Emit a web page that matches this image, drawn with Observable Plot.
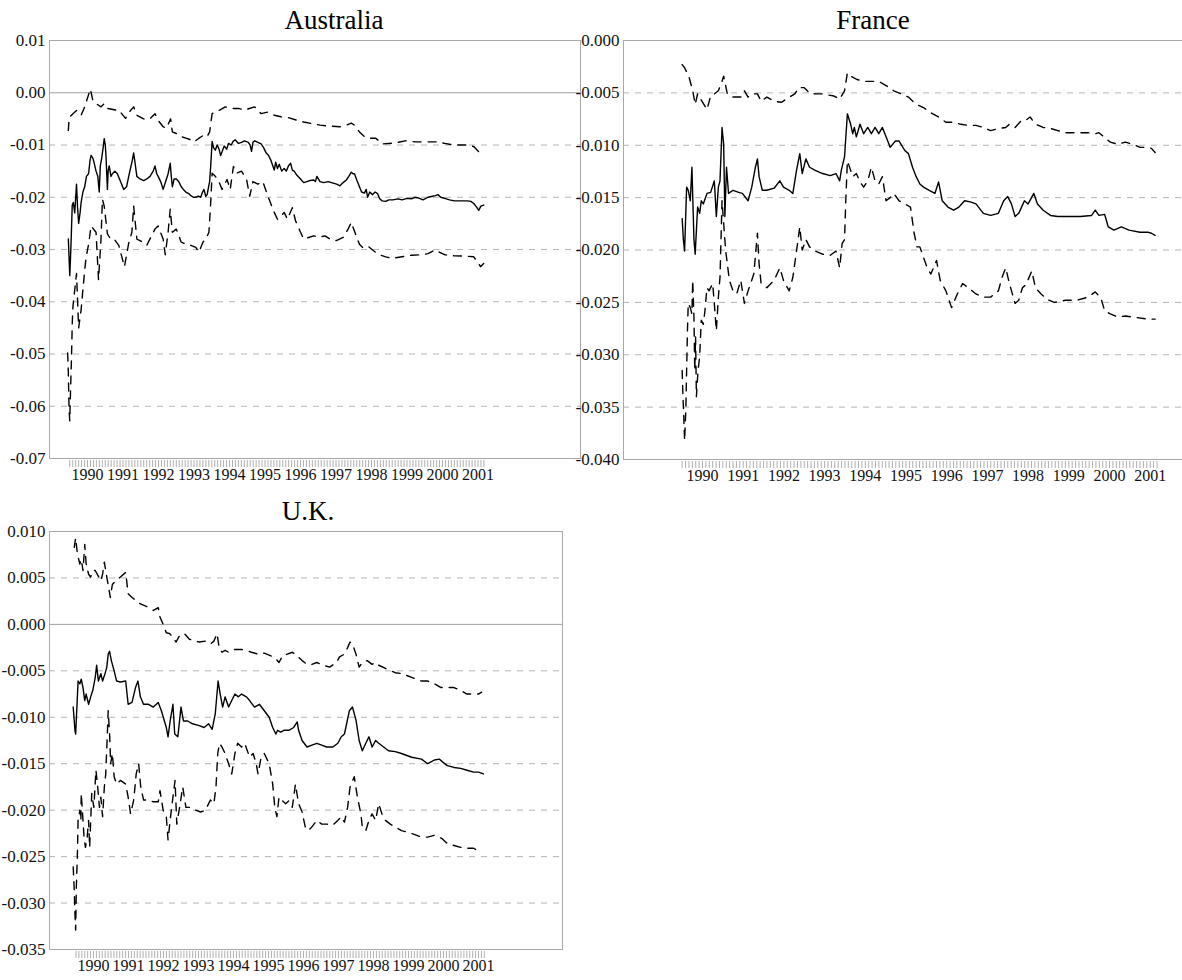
<!DOCTYPE html>
<html>
<head>
<meta charset="utf-8">
<script src="https://cdn.jsdelivr.net/npm/d3@7"></script>
<script src="https://cdn.jsdelivr.net/npm/@observablehq/plot@0.6"></script>
<style>
  html, body { margin: 0; padding: 0; background: #fff; overflow: hidden; }
  #page { position: relative; width: 1182px; height: 980px; overflow: hidden; background: #fff; }
  .panel { position: absolute; }
  .title { position: absolute; font-family: "Liberation Serif", "DejaVu Serif", serif; font-size: 27px; color: #000; transform: translate(-50%, -50%); white-space: nowrap; }
</style>
</head>
<body>
<div id="page"></div>
<script>
// ---------- data: [decimal year, value] ----------
const ausMid = [[1989.46,-0.028],[1989.50,-0.035],[1989.53,-0.030],[1989.57,-0.0215],[1989.60,-0.021],[1989.64,-0.023],[1989.69,-0.0175],[1989.72,-0.022],[1989.75,-0.025],[1989.79,-0.023],[1989.82,-0.021],[1989.87,-0.019],[1989.92,-0.018],[1989.97,-0.016],[1990.03,-0.0155],[1990.07,-0.013],[1990.10,-0.012],[1990.15,-0.0125],[1990.19,-0.0135],[1990.24,-0.015],[1990.29,-0.016],[1990.33,-0.019],[1990.36,-0.014],[1990.40,-0.0125],[1990.44,-0.0105],[1990.47,-0.0088],[1990.50,-0.010],[1990.52,-0.012],[1990.56,-0.0185],[1990.58,-0.015],[1990.61,-0.014],[1990.66,-0.016],[1990.70,-0.0155],[1990.77,-0.015],[1990.84,-0.0155],[1990.93,-0.017],[1991.02,-0.0185],[1991.10,-0.018],[1991.16,-0.016],[1991.21,-0.0145],[1991.26,-0.0130],[1991.30,-0.0115],[1991.35,-0.014],[1991.39,-0.016],[1991.48,-0.0165],[1991.58,-0.0168],[1991.67,-0.0165],[1991.76,-0.016],[1991.85,-0.015],[1991.90,-0.014],[1991.95,-0.0155],[1991.99,-0.016],[1992.06,-0.017],[1992.13,-0.0185],[1992.20,-0.017],[1992.27,-0.0155],[1992.33,-0.0135],[1992.36,-0.016],[1992.39,-0.018],[1992.44,-0.0165],[1992.50,-0.0165],[1992.57,-0.017],[1992.64,-0.018],[1992.70,-0.0185],[1992.77,-0.019],[1992.85,-0.0193],[1992.91,-0.0197],[1992.98,-0.020],[1993.05,-0.020],[1993.12,-0.0198],[1993.19,-0.020],[1993.24,-0.019],[1993.28,-0.0185],[1993.33,-0.0198],[1993.37,-0.0195],[1993.41,-0.018],[1993.44,-0.017],[1993.47,-0.014],[1993.51,-0.0093],[1993.55,-0.0105],[1993.60,-0.011],[1993.65,-0.0100],[1993.70,-0.0107],[1993.75,-0.0120],[1993.79,-0.0113],[1993.85,-0.0102],[1993.92,-0.0108],[1993.97,-0.0097],[1994.05,-0.0100],[1994.10,-0.0093],[1994.16,-0.0090],[1994.25,-0.0097],[1994.34,-0.0095],[1994.42,-0.0092],[1994.53,-0.0095],[1994.58,-0.0100],[1994.62,-0.0112],[1994.66,-0.0095],[1994.71,-0.0092],[1994.80,-0.0095],[1994.89,-0.0098],[1994.96,-0.0105],[1995.03,-0.0115],[1995.10,-0.0120],[1995.17,-0.0130],[1995.22,-0.0140],[1995.26,-0.0148],[1995.30,-0.0133],[1995.35,-0.0145],[1995.40,-0.0137],[1995.47,-0.0150],[1995.54,-0.0145],[1995.60,-0.0150],[1995.66,-0.0140],[1995.72,-0.0135],[1995.77,-0.0148],[1995.82,-0.0150],[1995.90,-0.0158],[1996.00,-0.0165],[1996.09,-0.0172],[1996.18,-0.0170],[1996.27,-0.0168],[1996.37,-0.0167],[1996.42,-0.0170],[1996.46,-0.0160],[1996.55,-0.0170],[1996.65,-0.0172],[1996.78,-0.0170],[1996.92,-0.0173],[1997.02,-0.0175],[1997.11,-0.0178],[1997.20,-0.0172],[1997.29,-0.0167],[1997.36,-0.0160],[1997.43,-0.0152],[1997.48,-0.0155],[1997.52,-0.0155],[1997.59,-0.0168],[1997.66,-0.0180],[1997.72,-0.0190],[1997.80,-0.0192],[1997.85,-0.0185],[1997.89,-0.0200],[1997.95,-0.0190],[1998.03,-0.0195],[1998.10,-0.0190],[1998.17,-0.0193],[1998.23,-0.0203],[1998.30,-0.0207],[1998.40,-0.0208],[1998.49,-0.0205],[1998.60,-0.0205],[1998.75,-0.0203],[1998.86,-0.0205],[1999.00,-0.0202],[1999.12,-0.0203],[1999.23,-0.0200],[1999.35,-0.0202],[1999.45,-0.0205],[1999.59,-0.0200],[1999.72,-0.0198],[1999.80,-0.0197],[1999.87,-0.0195],[1999.95,-0.0200],[2000.06,-0.0202],[2000.20,-0.0205],[2000.33,-0.0207],[2000.50,-0.0207],[2000.70,-0.0207],[2000.80,-0.0208],[2000.88,-0.0212],[2000.95,-0.0218],[2001.02,-0.0225],[2001.08,-0.0217],[2001.16,-0.0215]];
const ausUpper = [[1989.46,-0.0072],[1989.48,-0.0050],[1989.50,-0.0046],[1989.59,-0.0040],[1989.69,-0.0034],[1989.82,-0.0043],[1989.92,-0.0027],[1989.99,-0.0012],[1990.08,0.0007],[1990.15,-0.0015],[1990.24,-0.0021],[1990.38,-0.0027],[1990.47,-0.0021],[1990.56,-0.0030],[1990.79,-0.0033],[1990.88,-0.0033],[1991.07,-0.0049],[1991.21,-0.0034],[1991.30,-0.0027],[1991.39,-0.0043],[1991.58,-0.0050],[1991.76,-0.0050],[1991.90,-0.0040],[1991.99,-0.0053],[1992.13,-0.0065],[1992.22,-0.0068],[1992.34,-0.0050],[1992.39,-0.0075],[1992.50,-0.0078],[1992.64,-0.0084],[1992.77,-0.0087],[1992.91,-0.0090],[1993.00,-0.0094],[1993.14,-0.0087],[1993.28,-0.0081],[1993.37,-0.0084],[1993.44,-0.0075],[1993.51,-0.0040],[1993.60,-0.0037],[1993.70,-0.0034],[1993.88,-0.0027],[1994.06,-0.0030],[1994.25,-0.0030],[1994.43,-0.0033],[1994.71,-0.0027],[1994.89,-0.0040],[1995.08,-0.0037],[1995.26,-0.0043],[1995.45,-0.0046],[1995.63,-0.0047],[1995.91,-0.0053],[1996.09,-0.0056],[1996.32,-0.0059],[1996.55,-0.0062],[1996.83,-0.0064],[1997.11,-0.0065],[1997.29,-0.0062],[1997.43,-0.0058],[1997.52,-0.0062],[1997.66,-0.0075],[1997.80,-0.0084],[1997.94,-0.0087],[1998.12,-0.0087],[1998.30,-0.0098],[1998.67,-0.0096],[1998.95,-0.0092],[1999.23,-0.0094],[1999.59,-0.0094],[1999.87,-0.0094],[2000.06,-0.0097],[2000.33,-0.0100],[2000.70,-0.0100],[2000.88,-0.0103],[2001.02,-0.0113],[2001.16,-0.0106]];
const ausLower = [[1989.44,-0.0498],[1989.46,-0.0536],[1989.48,-0.0606],[1989.50,-0.0628],[1989.52,-0.0574],[1989.55,-0.0504],[1989.57,-0.0441],[1989.59,-0.0409],[1989.64,-0.0377],[1989.69,-0.0346],[1989.75,-0.0450],[1989.82,-0.0415],[1989.87,-0.0377],[1989.92,-0.0340],[1989.96,-0.0315],[1990.03,-0.0290],[1990.10,-0.0255],[1990.24,-0.0267],[1990.31,-0.0358],[1990.38,-0.0280],[1990.42,-0.0204],[1990.47,-0.0217],[1990.56,-0.0270],[1990.65,-0.0280],[1990.75,-0.0280],[1990.88,-0.0292],[1991.04,-0.0333],[1991.16,-0.0288],[1991.25,-0.0267],[1991.30,-0.0217],[1991.39,-0.0280],[1991.53,-0.0285],[1991.67,-0.0292],[1991.90,-0.0261],[1991.99,-0.0255],[1992.13,-0.0280],[1992.19,-0.0310],[1992.27,-0.0267],[1992.33,-0.0223],[1992.39,-0.0267],[1992.50,-0.0261],[1992.64,-0.0286],[1992.77,-0.0290],[1992.91,-0.0292],[1993.05,-0.0296],[1993.14,-0.0305],[1993.25,-0.0286],[1993.33,-0.0280],[1993.42,-0.0267],[1993.47,-0.0210],[1993.51,-0.0154],[1993.60,-0.0160],[1993.70,-0.0170],[1993.79,-0.0185],[1993.93,-0.0166],[1994.02,-0.0185],[1994.11,-0.0141],[1994.20,-0.0154],[1994.34,-0.0150],[1994.48,-0.0166],[1994.57,-0.0198],[1994.66,-0.0170],[1994.80,-0.0175],[1994.94,-0.0170],[1995.08,-0.0198],[1995.26,-0.0229],[1995.35,-0.0242],[1995.45,-0.0236],[1995.54,-0.0229],[1995.63,-0.0242],[1995.77,-0.0220],[1995.86,-0.0245],[1996.00,-0.0267],[1996.09,-0.0280],[1996.23,-0.0277],[1996.37,-0.0274],[1996.55,-0.0276],[1996.69,-0.0274],[1996.83,-0.0280],[1997.01,-0.0283],[1997.20,-0.0277],[1997.34,-0.0261],[1997.43,-0.0248],[1997.52,-0.0265],[1997.66,-0.0290],[1997.75,-0.0296],[1997.89,-0.0293],[1998.03,-0.0301],[1998.21,-0.0310],[1998.40,-0.0314],[1998.58,-0.0317],[1998.86,-0.0314],[1999.13,-0.0311],[1999.41,-0.0310],[1999.59,-0.0308],[1999.78,-0.0301],[2000.06,-0.0310],[2000.33,-0.0312],[2000.70,-0.0313],[2000.88,-0.0314],[2001.02,-0.0327],[2001.07,-0.0333],[2001.16,-0.0327]];

const fraMid = [[1989.50,-0.0170],[1989.53,-0.0190],[1989.56,-0.0201],[1989.61,-0.0140],[1989.65,-0.0143],[1989.70,-0.0153],[1989.74,-0.0121],[1989.79,-0.0190],[1989.82,-0.0204],[1989.88,-0.0159],[1989.93,-0.0165],[1989.97,-0.0153],[1990.02,-0.0156],[1990.11,-0.0146],[1990.20,-0.0145],[1990.29,-0.0134],[1990.34,-0.0168],[1990.39,-0.0140],[1990.43,-0.0134],[1990.48,-0.0083],[1990.52,-0.0099],[1990.55,-0.0168],[1990.59,-0.0121],[1990.64,-0.0146],[1990.75,-0.0143],[1990.89,-0.0145],[1990.98,-0.0146],[1991.12,-0.0153],[1991.21,-0.0140],[1991.30,-0.0121],[1991.35,-0.0113],[1991.39,-0.0130],[1991.47,-0.0143],[1991.58,-0.0143],[1991.76,-0.0141],[1991.90,-0.0134],[1991.99,-0.0140],[1992.13,-0.0143],[1992.22,-0.0146],[1992.31,-0.0124],[1992.39,-0.0108],[1992.45,-0.0127],[1992.54,-0.0113],[1992.63,-0.0121],[1992.77,-0.0124],[1992.95,-0.0127],[1993.14,-0.0129],[1993.28,-0.0127],[1993.37,-0.0134],[1993.41,-0.0124],[1993.49,-0.0111],[1993.56,-0.0070],[1993.64,-0.0080],[1993.69,-0.0089],[1993.73,-0.0083],[1993.78,-0.0092],[1993.87,-0.0080],[1993.96,-0.0089],[1994.06,-0.0083],[1994.15,-0.0089],[1994.24,-0.0083],[1994.33,-0.0089],[1994.42,-0.0083],[1994.51,-0.0092],[1994.61,-0.0102],[1994.74,-0.0096],[1994.83,-0.0096],[1994.97,-0.0105],[1995.06,-0.0108],[1995.16,-0.0121],[1995.25,-0.0130],[1995.34,-0.0137],[1995.43,-0.0140],[1995.57,-0.0143],[1995.71,-0.0146],[1995.80,-0.0135],[1995.89,-0.0153],[1996.03,-0.0159],[1996.17,-0.0162],[1996.30,-0.0159],[1996.44,-0.0153],[1996.58,-0.0154],[1996.72,-0.0156],[1996.90,-0.0165],[1997.08,-0.0167],[1997.27,-0.0165],[1997.40,-0.0153],[1997.50,-0.0149],[1997.59,-0.0156],[1997.68,-0.0168],[1997.77,-0.0165],[1997.91,-0.0153],[1998.00,-0.0156],[1998.14,-0.0146],[1998.23,-0.0156],[1998.37,-0.0162],[1998.55,-0.0167],[1998.73,-0.0168],[1999.01,-0.0168],[1999.28,-0.0168],[1999.56,-0.0167],[1999.65,-0.0162],[1999.74,-0.0167],[1999.88,-0.0166],[1999.97,-0.0178],[2000.11,-0.0181],[2000.29,-0.0178],[2000.48,-0.0181],[2000.75,-0.0183],[2000.94,-0.0183],[2001.03,-0.0184],[2001.12,-0.0186]];
const fraUpper = [[1989.50,-0.0023],[1989.56,-0.0026],[1989.67,-0.0035],[1989.76,-0.0048],[1989.82,-0.0061],[1989.88,-0.0051],[1990.11,-0.0066],[1990.20,-0.0053],[1990.29,-0.0051],[1990.39,-0.0048],[1990.48,-0.0039],[1990.52,-0.0034],[1990.61,-0.0051],[1990.75,-0.0054],[1990.94,-0.0054],[1991.03,-0.0048],[1991.12,-0.0054],[1991.21,-0.0051],[1991.35,-0.0051],[1991.44,-0.0058],[1991.58,-0.0054],[1991.76,-0.0058],[1991.94,-0.0059],[1992.13,-0.0054],[1992.27,-0.0051],[1992.36,-0.0045],[1992.50,-0.0045],[1992.63,-0.0050],[1992.77,-0.0051],[1992.95,-0.0051],[1993.23,-0.0053],[1993.37,-0.0056],[1993.49,-0.0048],[1993.56,-0.0031],[1993.64,-0.0034],[1993.78,-0.0037],[1993.96,-0.0039],[1994.15,-0.0039],[1994.33,-0.0039],[1994.51,-0.0043],[1994.70,-0.0048],[1994.88,-0.0051],[1995.06,-0.0054],[1995.25,-0.0061],[1995.43,-0.0064],[1995.61,-0.0069],[1995.80,-0.0073],[1995.98,-0.0078],[1996.17,-0.0078],[1996.35,-0.0080],[1996.53,-0.0081],[1996.72,-0.0081],[1996.90,-0.0083],[1997.08,-0.0086],[1997.27,-0.0084],[1997.45,-0.0083],[1997.54,-0.0080],[1997.68,-0.0083],[1997.82,-0.0077],[1997.91,-0.0077],[1998.05,-0.0073],[1998.18,-0.0080],[1998.37,-0.0083],[1998.55,-0.0084],[1998.73,-0.0086],[1998.92,-0.0088],[1999.19,-0.0088],[1999.47,-0.0088],[1999.65,-0.0089],[1999.74,-0.0088],[1999.83,-0.0091],[2000.02,-0.0097],[2000.20,-0.0099],[2000.39,-0.0097],[2000.57,-0.0099],[2000.75,-0.0102],[2000.94,-0.0102],[2001.03,-0.0103],[2001.12,-0.0107]];
const fraLower = [[1989.50,-0.0315],[1989.52,-0.0340],[1989.54,-0.0359],[1989.56,-0.0382],[1989.59,-0.0353],[1989.61,-0.0315],[1989.63,-0.0277],[1989.65,-0.0251],[1989.70,-0.0255],[1989.74,-0.0261],[1989.76,-0.0229],[1989.79,-0.0264],[1989.81,-0.0315],[1989.83,-0.0283],[1989.85,-0.0340],[1989.89,-0.0315],[1989.93,-0.0302],[1989.97,-0.0267],[1990.02,-0.0271],[1990.06,-0.0258],[1990.11,-0.0236],[1990.16,-0.0239],[1990.25,-0.0232],[1990.29,-0.0251],[1990.34,-0.0277],[1990.39,-0.0245],[1990.43,-0.0226],[1990.48,-0.0153],[1990.57,-0.0201],[1990.61,-0.0213],[1990.66,-0.0229],[1990.75,-0.0239],[1990.84,-0.0242],[1990.94,-0.0229],[1991.03,-0.0251],[1991.12,-0.0239],[1991.26,-0.0223],[1991.35,-0.0184],[1991.39,-0.0213],[1991.44,-0.0232],[1991.58,-0.0236],[1991.76,-0.0229],[1991.90,-0.0217],[1991.99,-0.0229],[1992.13,-0.0239],[1992.22,-0.0226],[1992.31,-0.0201],[1992.39,-0.0178],[1992.45,-0.0200],[1992.54,-0.0190],[1992.63,-0.0197],[1992.77,-0.0201],[1992.95,-0.0204],[1993.14,-0.0205],[1993.28,-0.0201],[1993.37,-0.0217],[1993.43,-0.0194],[1993.49,-0.0190],[1993.52,-0.0153],[1993.56,-0.0115],[1993.64,-0.0124],[1993.69,-0.0130],[1993.78,-0.0127],[1993.87,-0.0135],[1993.96,-0.0140],[1994.06,-0.0134],[1994.15,-0.0121],[1994.24,-0.0134],[1994.33,-0.0137],[1994.42,-0.0130],[1994.51,-0.0153],[1994.61,-0.0150],[1994.70,-0.0146],[1994.83,-0.0153],[1994.97,-0.0156],[1995.11,-0.0159],[1995.20,-0.0184],[1995.27,-0.0197],[1995.34,-0.0197],[1995.43,-0.0207],[1995.52,-0.0217],[1995.61,-0.0223],[1995.75,-0.0210],[1995.84,-0.0229],[1995.98,-0.0239],[1996.12,-0.0255],[1996.26,-0.0242],[1996.39,-0.0232],[1996.53,-0.0236],[1996.72,-0.0242],[1996.90,-0.0245],[1997.08,-0.0245],[1997.27,-0.0239],[1997.36,-0.0226],[1997.45,-0.0217],[1997.54,-0.0232],[1997.68,-0.0251],[1997.77,-0.0248],[1997.86,-0.0236],[1997.95,-0.0233],[1998.09,-0.0220],[1998.18,-0.0236],[1998.32,-0.0242],[1998.46,-0.0247],[1998.64,-0.0250],[1998.92,-0.0248],[1999.19,-0.0248],[1999.47,-0.0245],[1999.65,-0.0240],[1999.79,-0.0246],[1999.88,-0.0258],[2000.02,-0.0261],[2000.20,-0.0264],[2000.39,-0.0263],[2000.57,-0.0264],[2000.94,-0.0266],[2001.12,-0.0266]];

const ukMid = [[1989.42,-0.0089],[1989.47,-0.0114],[1989.49,-0.0118],[1989.56,-0.0061],[1989.61,-0.0064],[1989.65,-0.0059],[1989.70,-0.0068],[1989.75,-0.0082],[1989.79,-0.0075],[1989.86,-0.0086],[1989.92,-0.0078],[1989.98,-0.0071],[1990.05,-0.0057],[1990.09,-0.0044],[1990.14,-0.0061],[1990.21,-0.0053],[1990.26,-0.0061],[1990.33,-0.0053],[1990.38,-0.0046],[1990.42,-0.0032],[1990.46,-0.0029],[1990.51,-0.0039],[1990.59,-0.0050],[1990.66,-0.0061],[1990.77,-0.0062],[1990.92,-0.0061],[1990.99,-0.0086],[1991.10,-0.0084],[1991.20,-0.0068],[1991.27,-0.0061],[1991.34,-0.0078],[1991.43,-0.0086],[1991.57,-0.0086],[1991.71,-0.0089],[1991.85,-0.0084],[1991.94,-0.0093],[1992.08,-0.0111],[1992.13,-0.0121],[1992.19,-0.0104],[1992.27,-0.0086],[1992.32,-0.0118],[1992.41,-0.0121],[1992.50,-0.0089],[1992.57,-0.0104],[1992.69,-0.0104],[1992.83,-0.0107],[1993.02,-0.0109],[1993.16,-0.0111],[1993.29,-0.0107],[1993.39,-0.0113],[1993.48,-0.0096],[1993.56,-0.0061],[1993.62,-0.0075],[1993.69,-0.0089],[1993.76,-0.0078],[1993.86,-0.0089],[1993.95,-0.0082],[1994.04,-0.0075],[1994.14,-0.0078],[1994.23,-0.0075],[1994.37,-0.0078],[1994.46,-0.0082],[1994.60,-0.0089],[1994.74,-0.0086],[1994.88,-0.0093],[1995.02,-0.0100],[1995.12,-0.0111],[1995.21,-0.0118],[1995.26,-0.0114],[1995.35,-0.0116],[1995.44,-0.0114],[1995.58,-0.0114],[1995.72,-0.0111],[1995.82,-0.0105],[1995.86,-0.0114],[1995.96,-0.0125],[1996.10,-0.0132],[1996.24,-0.0130],[1996.38,-0.0128],[1996.52,-0.0130],[1996.66,-0.0132],[1996.84,-0.0132],[1996.98,-0.0128],[1997.08,-0.0121],[1997.17,-0.0118],[1997.31,-0.0093],[1997.40,-0.0089],[1997.50,-0.0103],[1997.59,-0.0125],[1997.68,-0.0136],[1997.78,-0.0128],[1997.87,-0.0121],[1997.96,-0.0132],[1998.06,-0.0125],[1998.15,-0.0128],[1998.29,-0.0132],[1998.43,-0.0136],[1998.62,-0.0137],[1998.80,-0.0139],[1999.09,-0.0143],[1999.37,-0.0145],[1999.55,-0.0150],[1999.74,-0.0146],[1999.88,-0.0145],[1999.97,-0.0148],[2000.11,-0.0152],[2000.30,-0.0154],[2000.49,-0.0155],[2000.67,-0.0157],[2000.86,-0.0159],[2001.00,-0.0159],[2001.14,-0.0161]];
const ukUpper = [[1989.45,0.0083],[1989.49,0.0093],[1989.54,0.0076],[1989.61,0.0065],[1989.65,0.0070],[1989.70,0.0058],[1989.75,0.0086],[1989.79,0.0065],[1989.86,0.0054],[1989.92,0.0051],[1989.98,0.0058],[1990.05,0.0058],[1990.21,0.0047],[1990.26,0.0054],[1990.31,0.0067],[1990.38,0.0051],[1990.45,0.0036],[1990.48,0.0029],[1990.54,0.0043],[1990.63,0.0047],[1990.77,0.0051],[1990.92,0.0056],[1990.99,0.0033],[1991.10,0.0029],[1991.24,0.0025],[1991.34,0.0022],[1991.48,0.0020],[1991.57,0.0018],[1991.71,0.0015],[1991.85,0.0018],[1991.90,0.0008],[1991.99,0.0000],[1992.08,-0.0009],[1992.18,-0.0010],[1992.27,-0.0014],[1992.36,-0.0019],[1992.46,-0.0012],[1992.60,-0.0010],[1992.74,-0.0016],[1992.92,-0.0018],[1993.02,-0.0019],[1993.20,-0.0018],[1993.34,-0.0021],[1993.44,-0.0018],[1993.53,-0.0010],[1993.59,-0.0025],[1993.67,-0.0030],[1993.76,-0.0028],[1993.86,-0.0030],[1994.04,-0.0027],[1994.23,-0.0027],[1994.37,-0.0028],[1994.51,-0.0030],[1994.70,-0.0032],[1994.88,-0.0031],[1995.07,-0.0034],[1995.21,-0.0037],[1995.30,-0.0041],[1995.40,-0.0034],[1995.54,-0.0032],[1995.68,-0.0030],[1995.82,-0.0034],[1995.96,-0.0039],[1996.10,-0.0043],[1996.24,-0.0043],[1996.38,-0.0041],[1996.56,-0.0044],[1996.75,-0.0046],[1996.94,-0.0041],[1997.03,-0.0035],[1997.17,-0.0032],[1997.26,-0.0025],[1997.33,-0.0019],[1997.40,-0.0021],[1997.50,-0.0032],[1997.59,-0.0046],[1997.68,-0.0041],[1997.82,-0.0039],[1997.96,-0.0043],[1998.06,-0.0041],[1998.15,-0.0044],[1998.38,-0.0048],[1998.62,-0.0052],[1998.80,-0.0053],[1999.09,-0.0057],[1999.37,-0.0061],[1999.55,-0.0061],[1999.74,-0.0064],[1999.93,-0.0068],[2000.11,-0.0068],[2000.30,-0.0068],[2000.49,-0.0071],[2000.67,-0.0075],[2000.86,-0.0075],[2001.00,-0.0075],[2001.09,-0.0073]];
const ukLower = [[1989.42,-0.0261],[1989.45,-0.0286],[1989.47,-0.0311],[1989.49,-0.0329],[1989.51,-0.0283],[1989.54,-0.0247],[1989.56,-0.0211],[1989.61,-0.0200],[1989.64,-0.0211],[1989.65,-0.0182],[1989.70,-0.0211],[1989.73,-0.0229],[1989.77,-0.0240],[1989.82,-0.0229],[1989.86,-0.0211],[1989.89,-0.0240],[1989.95,-0.0182],[1990.01,-0.0197],[1990.07,-0.0157],[1990.12,-0.0175],[1990.17,-0.0197],[1990.21,-0.0186],[1990.26,-0.0207],[1990.31,-0.0175],[1990.35,-0.0161],[1990.40,-0.0114],[1990.42,-0.0093],[1990.46,-0.0118],[1990.49,-0.0150],[1990.54,-0.0139],[1990.59,-0.0164],[1990.66,-0.0172],[1990.77,-0.0168],[1990.92,-0.0172],[1990.99,-0.0186],[1991.06,-0.0204],[1991.15,-0.0189],[1991.22,-0.0161],[1991.29,-0.0150],[1991.35,-0.0175],[1991.43,-0.0189],[1991.57,-0.0189],[1991.71,-0.0191],[1991.85,-0.0191],[1991.90,-0.0179],[1991.99,-0.0200],[1992.08,-0.0207],[1992.13,-0.0232],[1992.19,-0.0211],[1992.27,-0.0186],[1992.33,-0.0168],[1992.38,-0.0215],[1992.46,-0.0197],[1992.55,-0.0175],[1992.64,-0.0197],[1992.78,-0.0197],[1992.92,-0.0200],[1993.06,-0.0202],[1993.20,-0.0200],[1993.34,-0.0189],[1993.44,-0.0193],[1993.50,-0.0175],[1993.55,-0.0139],[1993.60,-0.0128],[1993.67,-0.0132],[1993.76,-0.0139],[1993.86,-0.0150],[1993.95,-0.0161],[1994.04,-0.0139],[1994.12,-0.0128],[1994.23,-0.0132],[1994.32,-0.0128],[1994.46,-0.0143],[1994.56,-0.0139],[1994.65,-0.0150],[1994.70,-0.0161],[1994.79,-0.0143],[1994.88,-0.0139],[1995.02,-0.0150],[1995.12,-0.0172],[1995.18,-0.0197],[1995.24,-0.0207],[1995.30,-0.0186],[1995.40,-0.0190],[1995.49,-0.0193],[1995.58,-0.0190],[1995.68,-0.0197],[1995.77,-0.0172],[1995.86,-0.0193],[1995.96,-0.0202],[1996.05,-0.0218],[1996.14,-0.0222],[1996.24,-0.0218],[1996.38,-0.0211],[1996.52,-0.0215],[1996.66,-0.0215],[1996.84,-0.0216],[1996.98,-0.0211],[1997.08,-0.0207],[1997.17,-0.0213],[1997.26,-0.0197],[1997.33,-0.0175],[1997.45,-0.0164],[1997.54,-0.0186],[1997.64,-0.0204],[1997.68,-0.0218],[1997.78,-0.0222],[1997.87,-0.0211],[1997.96,-0.0204],[1998.06,-0.0211],[1998.15,-0.0193],[1998.24,-0.0204],[1998.34,-0.0211],[1998.48,-0.0215],[1998.62,-0.0218],[1998.80,-0.0222],[1999.09,-0.0225],[1999.37,-0.0229],[1999.55,-0.0229],[1999.74,-0.0227],[1999.88,-0.0229],[1999.97,-0.0231],[2000.11,-0.0236],[2000.30,-0.0238],[2000.49,-0.0240],[2000.67,-0.0241],[2000.86,-0.0241],[2000.95,-0.0243]];

// axis tick values
const yearLabels = [1990,1991,1992,1993,1994,1995,1996,1997,1998,1999,2000,2001];
const monthTicks = d3.range(0, 141).map(i => 1989.5 + i / 12);
const ausYTicks = [0.01,0,-0.01,-0.02,-0.03,-0.04,-0.05,-0.06,-0.07];
const fraYTicks = [0,-0.005,-0.01,-0.015,-0.02,-0.025,-0.03,-0.035,-0.04];
const ukYTicks = [0.01,0.005,0,-0.005,-0.01,-0.015,-0.02,-0.025,-0.03,-0.035];

const FONT = "'Liberation Serif', 'DejaVu Serif', serif";
const toPts = arr => arr.map(([x, y]) => ({x, y}));

function panel(o) {
  const [y0, y1] = o.yDomain;
  const grid = o.yTicks.filter(v => v !== 0 && v !== y0 && v !== y1);
  const marks = [
    Plot.ruleY(grid, {stroke: "#b4b4b4", strokeWidth: 1, strokeDasharray: "6,6"}),
    o.zero ? Plot.ruleY([0], {stroke: "#a0a0a0", strokeWidth: 1}) : null,
    Plot.frame({stroke: "#a8a8a8", strokeWidth: 1}),
    Plot.axisY(o.yTicks, {label: null, tickSize: 0, tickPadding: 4, tickFormat: v => v.toFixed(o.dec), fontSize: 17, fill: "#111"}),
    Plot.axisX(monthTicks, {label: null, tickSize: 7, tickPadding: 0, tickFormat: () => "", stroke: "#9a9a9a", strokeWidth: 0.8, dy: 2}),
    Plot.axisX(yearLabels, {label: null, tickSize: 0, tickPadding: 10, tickFormat: d => String(d), fontSize: 16, fill: "#111"}),
    Plot.line(toPts(o.upper), {x: "x", y: "y", stroke: "#000", strokeWidth: 1.4, strokeDasharray: "8,7"}),
    Plot.line(toPts(o.lower), {x: "x", y: "y", stroke: "#000", strokeWidth: 1.4, strokeDasharray: "8,7"}),
    Plot.line(toPts(o.mid), {x: "x", y: "y", stroke: "#000", strokeWidth: 1.4})
  ].filter(Boolean);
  const svg = Plot.plot({
    width: o.width, height: o.height,
    marginLeft: o.ml, marginRight: o.mr, marginTop: o.mt, marginBottom: o.mb,
    x: {type: "linear", domain: o.xDomain, label: null},
    y: {type: "linear", domain: o.yDomain, label: null},
    style: {fontFamily: FONT, fontSize: "17px", background: "transparent", color: "#111", overflow: "visible"},
    marks
  });
  svg.classList.add("panel");
  svg.style.left = o.left + "px";
  svg.style.top = o.top + "px";
  return svg;
}

const page = document.getElementById("page");
function title(text, cx, cy) {
  const d = document.createElement("div");
  d.className = "title"; d.textContent = text;
  d.style.left = cx + "px"; d.style.top = cy + "px";
  page.appendChild(d);
}

page.appendChild(panel({
  left: 0, top: 0, width: 600, height: 495, ml: 49, mr: 20, mt: 40, mb: 37,
  xDomain: [1988.929, 2003.887], yDomain: [-0.07, 0.01], yTicks: ausYTicks, dec: 2, zero: true,
  mid: ausMid, upper: ausUpper, lower: ausLower
}));
page.appendChild(panel({
  left: 575, top: 0, width: 620, height: 495, ml: 48, mr: 5, mt: 40, mb: 36,
  xDomain: [1988.059, 2001.99], yDomain: [-0.04, 0], yTicks: fraYTicks, dec: 3, zero: false,
  mid: fraMid, upper: fraUpper, lower: fraLower
}));
page.appendChild(panel({
  left: 0, top: 490, width: 580, height: 490, ml: 49, mr: 18, mt: 41, mb: 31,
  xDomain: [1988.743, 2003.40], yDomain: [-0.035, 0.01], yTicks: ukYTicks, dec: 3, zero: true,
  mid: ukMid, upper: ukUpper, lower: ukLower
}));

title("Australia", 334, 20);
title("France", 873, 20);
title("U.K.", 308, 511);
</script>
</body>
</html>
